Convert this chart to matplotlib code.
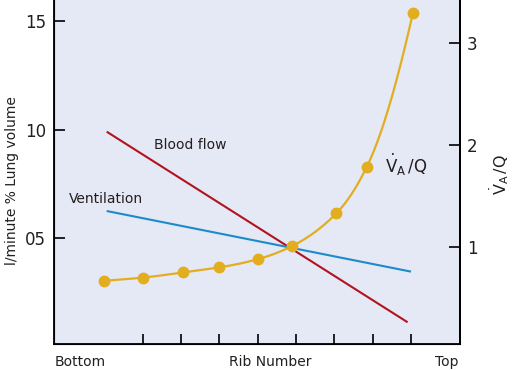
import numpy as np
import matplotlib
matplotlib.use("Agg")
import matplotlib.pyplot as plt

plt.rcParams['font.family'] = ['DejaVu Sans']
plt.rcParams['mathtext.fontset'] = 'dejavusans'

# ---- data ----
rib_pos = [0.0, 1.0, 2.05, 3.0, 4.0, 4.9, 6.05, 6.85, 8.05]
va_q = [0.67, 0.70, 0.75, 0.80, 0.88, 1.01, 1.33, 1.79, 3.30]

blood_x = [0.06, 7.91]
blood_y = [9.9, 1.13]
vent_x = [0.06, 8.0]
vent_y = [6.25, 3.46]

rib_ticks = [1, 2, 3, 4, 5, 6, 7, 8]
x_names = ["Bottom", "Rib Number", "Top"]
x_name_pos = [-0.64, 4.32, 8.94]
left_ticks = [5, 10, 15]
left_labels = ["05", "10", "15"]
right_ticks = [1, 2, 3]
right_labels = ["1", "2", "3"]

TXT = '#231f20'
BG = '#e5e8f5'
RED = '#b3121f'
BLUE = '#1c8bc9'
YEL = '#e2ae1f'


def pchip(x, y, xs):
    x = np.asarray(x, float); y = np.asarray(y, float)
    h = np.diff(x); dl = np.diff(y) / h
    n = len(x); d = np.zeros(n)
    for k in range(1, n - 1):
        if dl[k - 1] * dl[k] > 0:
            w1 = 2 * h[k] + h[k - 1]; w2 = h[k] + 2 * h[k - 1]
            d[k] = (w1 + w2) / (w1 / dl[k - 1] + w2 / dl[k])
    def end(h0, h1, d0, d1):
        v = ((2 * h0 + h1) * d0 - h0 * d1) / (h0 + h1)
        if np.sign(v) != np.sign(d0):
            v = 0.0
        elif np.sign(d0) != np.sign(d1) and abs(v) > abs(3 * d0):
            v = 3 * d0
        return v
    d[0] = end(h[0], h[1], dl[0], dl[1])
    d[-1] = end(h[-1], h[-2], dl[-1], dl[-2])
    out = np.empty_like(xs)
    for i, xv in enumerate(xs):
        k = min(max(np.searchsorted(x, xv) - 1, 0), n - 2)
        t = (xv - x[k]) / h[k]
        h00 = 2 * t**3 - 3 * t**2 + 1; h10 = t**3 - 2 * t**2 + t
        h01 = -2 * t**3 + 3 * t**2; h11 = t**3 - t**2
        out[i] = h00 * y[k] + h10 * h[k] * d[k] + h01 * y[k + 1] + h11 * h[k] * d[k + 1]
    return out


fig = plt.figure(figsize=(5.12, 3.70), dpi=100)
ax = fig.add_axes([54.3 / 512, 1 - 344 / 370, (460 - 54.3) / 512, 344 / 370])
ax.set_facecolor(BG)
ax.set_xlim(-1.307, 9.277)
ax.set_ylim(0.13, 15.96)

ax.plot(blood_x, blood_y, color=RED, lw=1.5, solid_capstyle='butt')
ax.plot(vent_x, vent_y, color=BLUE, lw=1.5, solid_capstyle='butt')

ax.set_xticks(rib_ticks)
ax.set_xticklabels([""] * len(rib_ticks))
ax.set_xticks(x_name_pos, minor=True)
ax.set_xticklabels(x_names, minor=True)
ax.tick_params(axis='x', which='major', direction='in', length=7, width=1.2, color='black')
ax.tick_params(axis='x', which='minor', length=0, pad=8, labelsize=10, labelcolor=TXT)

ax.set_yticks(left_ticks)
ax.set_yticklabels(left_labels)
ax.tick_params(axis='y', direction='in', length=8, width=1.2, pad=6, labelsize=12, labelcolor=TXT)

for s in ['left', 'bottom', 'right']:
    ax.spines[s].set_linewidth(1.3)
ax.spines['top'].set_visible(False)

ax2 = ax.twinx()
ax2.set_ylim(0.048, 3.425)
xs = np.linspace(rib_pos[0], rib_pos[-1], 300)
ax2.plot(xs, pchip(rib_pos, va_q, xs), color=YEL, lw=1.6)
ax2.plot(rib_pos, va_q, 'o', color=YEL, ms=7.5, mec=YEL)
ax2.set_yticks(right_ticks)
ax2.set_yticklabels(right_labels)
ax2.tick_params(axis='y', direction='in', length=8, width=1.2, pad=5, labelsize=12, labelcolor=TXT)
ax2.spines['top'].set_visible(False)
ax2.spines['right'].set_linewidth(1.3)

ax.text(0.03, 6.8, "Ventilation", ha='center', va='center', fontsize=10, color=TXT)
ax.text(2.23, 9.29, "Blood flow", ha='center', va='center', fontsize=10, color=TXT)
ax.text(7.32, 8.0, r'$\dot{\mathrm{V}}_{\mathrm{A}}\,/\mathrm{Q}$', ha='left', va='baseline',
        fontsize=12, color=TXT)

fig.text(12 / 512, 1 - 181 / 370, "l/minute % Lung volume", rotation=90,
         ha='center', va='center', fontsize=10, color=TXT)
fig.text(499 / 512, 1 - 175 / 370, r'$\dot{\mathrm{V}}_{\mathrm{A}}\,/\mathrm{Q}$', rotation=90,
         ha='center', va='center', fontsize=11.5, color=TXT)

fig.savefig("out.png", dpi=100)
